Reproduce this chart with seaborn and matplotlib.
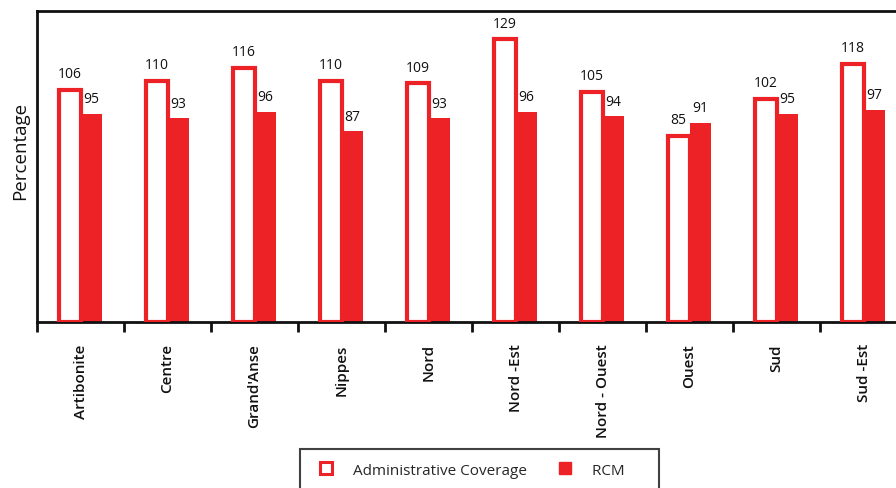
import matplotlib
matplotlib.use("Agg")
import matplotlib.pyplot as plt
import seaborn as sns
import pandas as pd
import numpy as np
from matplotlib.lines import Line2D
from matplotlib.ticker import FixedLocator

departments = ["Artibonite", "Centre", "Grand'Anse", "Nippes", "Nord", "Nord -Est",
               "Nord - Ouest", "Ouest", "Sud", "Sud -Est"]
admin_coverage = [106, 110, 116, 110, 109, 129, 105, 85, 102, 118]
rcm = [95, 93, 96, 87, 93, 96, 94, 91, 95, 97]
series_names = ["Administrative Coverage", "RCM"]

RED = "#ED2227"

sns.set_theme(style="white")
plt.rcParams['font.family'] = ['Open Sans', 'DejaVu Sans']

df = pd.DataFrame({
    "Department": departments * 2,
    "Value": admin_coverage + rcm,
    "Series": [series_names[0]] * len(departments) + [series_names[1]] * len(departments),
})

fig = plt.figure(figsize=(8.96, 4.88), dpi=100)
ax = fig.add_axes([37 / 896, 1 - 322 / 488, 870 / 896, 311 / 488])

sns.barplot(data=df, x="Department", y="Value", hue="Series", order=departments,
            hue_order=series_names, palette=[RED, RED], width=0.5, dodge=True,
            saturation=1, legend=False, ax=ax, errorbar=None)

n = len(departments)
bars = ax.patches
for i, p in enumerate(bars[:n]):
    p.set_facecolor("white")
    p.set_edgecolor(RED)
    p.set_linewidth(3)
    p.set_zorder(3)
    x = p.get_x() + p.get_width() / 2
    ax.text(x, p.get_height() + 3.5, f"{admin_coverage[i]}", ha="center", va="bottom",
            fontsize=10, color="#111111")
for i, p in enumerate(bars[n:2 * n]):
    p.set_edgecolor("none")
    p.set_linewidth(0)
    x = p.get_x() + p.get_width() / 2
    ax.text(x, p.get_height() + 3.0, f"{rcm[i]}", ha="center", va="bottom",
            fontsize=10, color="#111111")

ax.set_ylim(0, 142)
ax.set_xlim(-0.5, n - 0.5)
ax.set_yticks([])
ax.set_xlabel("")
ax.set_ylabel("Percentage", fontsize=13.5, color="#111111")
ax.yaxis.set_label_coords(-17 / 870, 0.55)
ax.yaxis.label.set_va("center")

ax.xaxis.set_minor_locator(FixedLocator(np.arange(-0.5, n, 1.0)))
ax.tick_params(axis="x", which="major", length=0, pad=16, labelsize=11,
               labelrotation=90, labelcolor="#111111")
ax.tick_params(axis="x", which="minor", bottom=True, length=7, width=2, color="#111111",
               direction="out")
for lab in ax.get_xticklabels():
    lab.set_fontweight("semibold")

for s in ["left", "top", "bottom"]:
    ax.spines[s].set_visible(True)
    ax.spines[s].set_color("#111111")
    ax.spines[s].set_linewidth(2)
ax.spines["right"].set_visible(False)

handles = [
    Line2D([0], [0], marker="s", linestyle="none", markersize=8, markerfacecolor="white",
           markeredgecolor=RED, markeredgewidth=2.2),
    Line2D([0], [0], marker="s", linestyle="none", markersize=8, markerfacecolor=RED,
           markeredgecolor=RED),
]
leg = fig.legend(handles, [series_names[0], series_names[1] + "      "], loc="upper left",
                 bbox_to_anchor=(300 / 896, 1 - 449 / 488), ncol=2, frameon=True,
                 fancybox=False, fontsize=11, borderpad=0.7, columnspacing=1.5,
                 handletextpad=0.75, borderaxespad=0, handleheight=1.8)
leg.get_frame().set_edgecolor("#111111")
leg.get_frame().set_linewidth(1.5)

fig.savefig("out.png", dpi=100)
